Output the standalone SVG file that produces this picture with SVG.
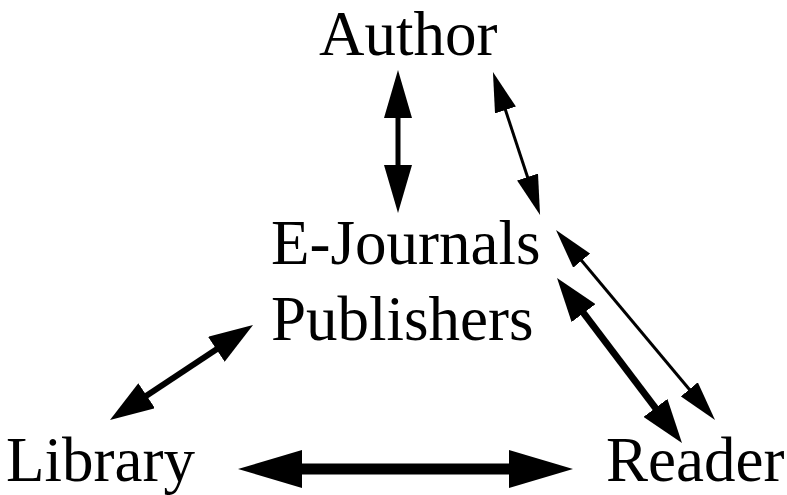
<svg xmlns="http://www.w3.org/2000/svg" width="787" height="495" viewBox="0 0 787 495">
<style>
text{font-family:"Liberation Serif","Times New Roman",serif;font-size:63px;fill:#000}
line{stroke:#000}
</style>
<defs>
<marker id="mA" markerUnits="userSpaceOnUse" markerWidth="48" markerHeight="28" refX="24" refY="14" orient="auto-start-reverse"><path d="M0,0L48,14L0,28z"/></marker>
<marker id="mB" markerUnits="userSpaceOnUse" markerWidth="40" markerHeight="22" refX="20" refY="11" orient="auto-start-reverse"><path d="M0,0L40,11L0,22z"/></marker>
<marker id="mC" markerUnits="userSpaceOnUse" markerWidth="44" markerHeight="30" refX="22" refY="15" orient="auto-start-reverse"><path d="M0,0L44,15L0,30z"/></marker>
<marker id="mD" markerUnits="userSpaceOnUse" markerWidth="64" markerHeight="38" refX="32" refY="19" orient="auto-start-reverse"><path d="M0,0L64,19L0,38z"/></marker>
</defs>
<g id="author"><text x="319" y="55">Author</text></g>
<g id="publishers"><text x="271" y="264">E-Journals</text><text x="271" y="340">Publishers</text></g>
<g id="library"><text x="6" y="481">Library</text></g>
<g id="reader"><text x="606" y="481">Reader</text></g>
<g id="connectors">
<line x1="398" y1="94" x2="398" y2="189" stroke-width="5" marker-start="url(#mA)" marker-end="url(#mA)"/>
<line x1="499.2" y1="91" x2="533.8" y2="196" stroke-width="3" marker-start="url(#mB)" marker-end="url(#mB)"/>
<line x1="234.7" y1="337.2" x2="128.3" y2="407.8" stroke-width="6" marker-start="url(#mC)" marker-end="url(#mC)"/>
<line x1="568.8" y1="245.3" x2="702.2" y2="404.7" stroke-width="3" marker-start="url(#mB)" marker-end="url(#mB)"/>
<line x1="570.3" y1="295.5" x2="668.7" y2="425.5" stroke-width="7" marker-start="url(#mC)" marker-end="url(#mC)"/>
<line x1="270" y1="469" x2="541" y2="469" stroke-width="11" marker-start="url(#mD)" marker-end="url(#mD)"/>
</g>
</svg>
